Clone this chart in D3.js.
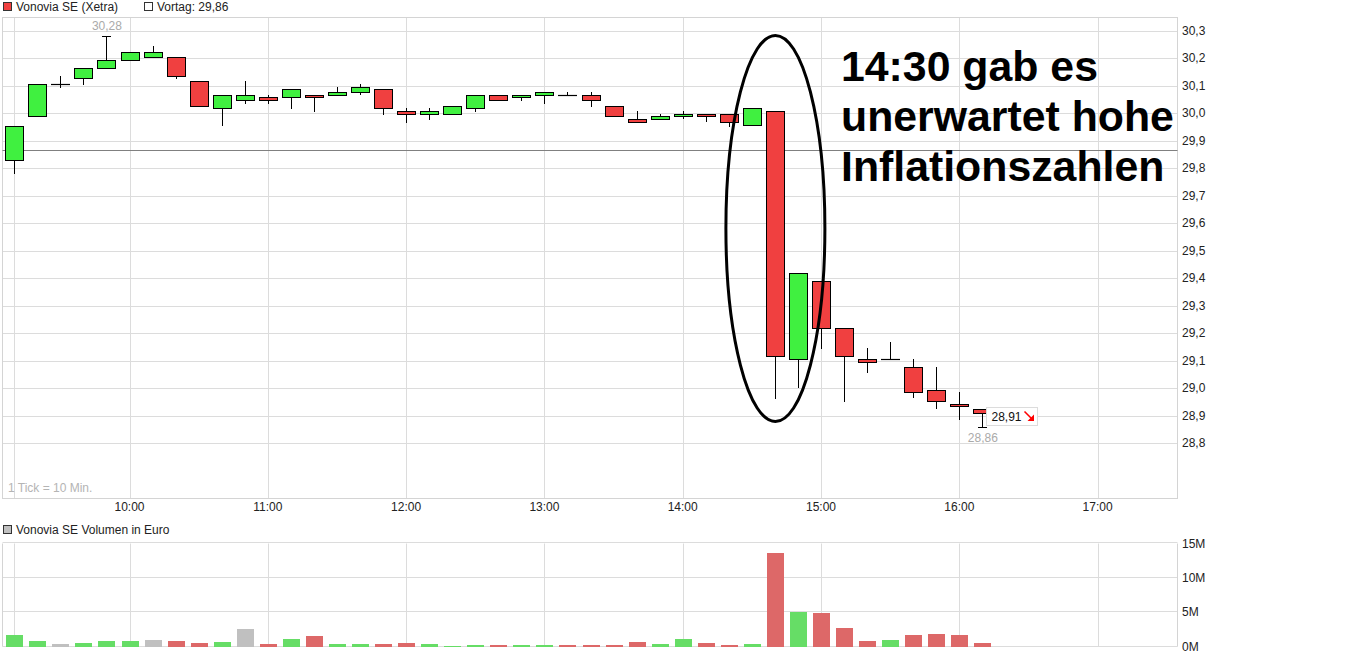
<!DOCTYPE html>
<html><head><meta charset="utf-8">
<script src="https://cdn.jsdelivr.net/npm/d3@7"></script>
<style>
html,body{margin:0;padding:0;background:#fff;}
svg{display:block;font-family:"Liberation Sans",Arial,sans-serif;}
</style>
</head><body>
<svg id="c" width="1372" height="657"></svg>
<script>
// ---------------- DATA ----------------
const times = ["09:10","09:20","09:30","09:40","09:50","10:00","10:10","10:20","10:30","10:40",
  "10:50","11:00","11:10","11:20","11:30","11:40","11:50","12:00","12:10","12:20",
  "12:30","12:40","12:50","13:00","13:10","13:20","13:30","13:40","13:50","14:00",
  "14:10","14:20","14:30","14:40","14:50","15:00","15:10","15:20","15:30","15:40",
  "15:50","16:00","16:10"];
const open  = [29.83,29.99,30.105,30.127,30.163,30.192,30.203,30.203,30.116,30.018,
  30.047,30.058,30.058,30.065,30.065,30.076,30.087,30.007,29.996,29.996,
  30.018,30.065,30.058,30.065,30.065,30.065,30.025,29.978,29.978,29.989,
  29.996,29.996,29.956,30.007,29.105,29.389,29.218,29.105,29.105,29.076,
  28.992,28.941,28.923];
const high  = [29.955,30.105,30.135,30.163,30.28,30.221,30.244,30.203,30.116,30.065,
  30.117,30.065,30.087,30.065,30.094,30.105,30.087,30.018,30.018,30.025,
  30.065,30.065,30.065,30.076,30.076,30.076,30.025,30.007,29.996,30.007,
  29.996,29.996,30.018,30.007,29.418,29.389,29.218,29.145,29.167,29.105,
  29.076,28.985,28.923];
const low   = [29.78,29.99,30.093,30.104,30.163,30.192,30.203,30.125,30.025,29.955,
  30.035,30.035,30.016,30.005,30.065,30.065,29.995,29.965,29.975,29.996,
  30.005,30.047,30.045,30.035,30.065,30.024,29.989,29.967,29.978,29.978,
  29.967,29.949,29.956,28.962,29.002,29.143,28.951,29.053,29.105,28.963,
  28.923,28.883,28.86];
const close = [29.955,30.105,30.105,30.163,30.192,30.221,30.221,30.134,30.025,30.065,
  30.065,30.047,30.087,30.058,30.076,30.094,30.018,29.996,30.007,30.025,
  30.065,30.047,30.065,30.076,30.065,30.047,29.989,29.967,29.989,29.996,
  29.989,29.967,30.018,29.116,29.418,29.218,29.116,29.094,29.105,28.985,
  28.952,28.934,28.91];
// volume in million euro
const volume = [1.69,0.82,0.39,0.53,0.82,0.82,0.97,0.82,0.53,0.68,
  2.56,0.39,1.11,1.55,0.39,0.39,0.39,0.53,0.39,0.1,
  0.24,0.24,0.24,0.24,0.24,0.24,0.24,0.68,0.39,1.11,
  0.53,0.24,0.39,13.59,5.03,4.89,2.71,0.82,0.97,1.69,
  1.84,1.69,0.53];
const previousClose = 29.86;
const priceTicks = [28.8,28.9,29.0,29.1,29.2,29.3,29.4,29.5,29.6,29.7,29.8,29.9,30.0,30.1,30.2,30.3];
const volumeTicks = [0,5,10,15];
const hourTicks = ["10:00","11:00","12:00","13:00","14:00","15:00","16:00","17:00"];
const titleText = "Vonovia SE (Xetra)";
const prevText = "Vortag: ";
const volTitle = "Vonovia SE Volumen in Euro";
const tickNote = "1 Tick = 10 Min.";
const annotationLines = ["14:30 gab es","unerwartet hohe","Inflationszahlen"];
const axisStart = "09:00", axisEnd = "17:40";

// ---------------- LAYOUT ----------------
const L = 2.5, R = 1177.5;
const pTop = 17.5, pBot = 498.5;
const vTop = 543.5, vBot = 646.5;
const C = {
  up:"#40f040", down:"#f04040", grid:"#dcdcdc", border:"#d4d4d4",
  vUp:"#66dd66", vDown:"#dd6868", vFlat:"#c0c0c0", prev:"#808080"
};

const loc = d3.formatLocale({decimal:",", thousands:".", grouping:[3], currency:["","€"]});
const f1 = loc.format(".1f"), f2 = loc.format(".2f");
const parse = d3.timeParse("%H:%M");
const tDates = times.map(parse);

const x = d3.scaleTime().domain([parse(axisStart), parse(axisEnd)]).range([-8.8, 1189.8]);
const y = d3.scaleLinear().domain([28.6, 30.35]).range([498, 17]);
const yv = d3.scaleLinear().domain([0, 15]).range([646.7, 543.3]);

const svg = d3.select("#c");
const px = v => Math.round(v) + 0.5;

// ---------------- PRICE PANEL ----------------
const gridX = [tDates[0]].concat(hourTicks.map(parse));
const g = svg.append("g");
g.selectAll(".hg").data(priceTicks).join("line")
  .attr("x1", L).attr("x2", R)
  .attr("y1", d => px(y(d))).attr("y2", d => px(y(d)))
  .attr("stroke", C.grid);
g.selectAll(".vg").data(gridX).join("line")
  .attr("x1", d => px(x(d))).attr("x2", d => px(x(d)))
  .attr("y1", pTop).attr("y2", pBot).attr("stroke", C.grid);
g.append("rect").attr("x", L).attr("y", pTop).attr("width", R-L).attr("height", pBot-pTop)
  .attr("fill", "none").attr("stroke", C.border);

// y labels
g.selectAll(".yl").data(priceTicks).join("text")
  .attr("x", 1182).attr("y", d => y(d)).attr("dy", "0.35em")
  .attr("font-size", 12).attr("fill", "#222").text(d => f1(d));
// x labels
g.selectAll(".xl").data(hourTicks).join("text")
  .attr("x", d => x(parse(d))).attr("y", 507).attr("dy", "0.35em")
  .attr("text-anchor", "middle").attr("font-size", 12).attr("fill", "#222").text(d => d);

// previous close line
g.append("line").attr("x1", L).attr("x2", R)
  .attr("y1", px(y(previousClose)) - 2).attr("y2", px(y(previousClose)) - 2)
  .attr("stroke", C.prev);

// tick note
g.append("text").attr("x", 8).attr("y", 487.5).attr("dy", "0.35em")
  .attr("font-size", 12).attr("fill", "#b4b4b4").text(tickNote);

// candles
const candles = times.map((t, i) => ({t: tDates[i], o: open[i], h: high[i], l: low[i], c: close[i]}));
const cg = g.selectAll(".candle").data(candles).join("g");
cg.append("line")
  .attr("x1", d => px(x(d.t))).attr("x2", d => px(x(d.t)))
  .attr("y1", d => Math.round(y(d.h))).attr("y2", d => Math.round(y(d.l)))
  .attr("stroke", "#000");
cg.filter(d => d.o !== d.c).append("rect")
  .attr("x", d => Math.round(x(d.t)) - 8.5)
  .attr("y", d => px(y(Math.max(d.o, d.c))))
  .attr("width", 18)
  .attr("height", d => Math.max(1, Math.round(y(Math.min(d.o, d.c))) - Math.round(y(Math.max(d.o, d.c)))))
  .attr("fill", d => d.c > d.o ? C.up : C.down)
  .attr("stroke", "#000");
cg.filter(d => d.o === d.c).append("line")
  .attr("x1", d => Math.round(x(d.t)) - 9).attr("x2", d => Math.round(x(d.t)) + 10)
  .attr("y1", d => px(y(d.o))).attr("y2", d => px(y(d.o)))
  .attr("stroke", "#000").attr("stroke-width", 1.2);

// extreme labels
const hi = d3.maxIndex(high), lo = d3.minIndex(low);
g.append("line").attr("x1", Math.round(x(tDates[hi])) - 4).attr("x2", Math.round(x(tDates[hi])) + 5)
  .attr("y1", px(y(high[hi]))).attr("y2", px(y(high[hi]))).attr("stroke", "#000");
g.append("text").attr("x", x(tDates[hi]) + 0.5).attr("y", y(high[hi]) - 10).attr("dy", "0.35em")
  .attr("text-anchor", "middle").attr("font-size", 12).attr("fill", "#aaa").text(f2(high[hi]));
g.append("line").attr("x1", Math.round(x(tDates[lo])) - 4).attr("x2", Math.round(x(tDates[lo])) + 5)
  .attr("y1", px(y(low[lo]))).attr("y2", px(y(low[lo]))).attr("stroke", "#000");
g.append("text").attr("x", x(tDates[lo]) + 0.5).attr("y", y(low[lo]) + 11).attr("dy", "0.35em")
  .attr("text-anchor", "middle").attr("font-size", 12).attr("fill", "#aaa").text(f2(low[lo]));

// last price box
const last = close.length - 1;
const bx = Math.round(x(tDates[last])) + 4.5, by = px(y(close[last])) - 6;
g.append("rect").attr("x", bx).attr("y", by).attr("width", 51).attr("height", 18)
  .attr("fill", "#fff").attr("stroke", "#dcdcdc");
g.append("text").attr("x", bx + 5).attr("y", by + 9).attr("dy", "0.35em")
  .attr("font-size", 12).attr("fill", "#111").text(f2(close[last]));
const ax = bx + 38, ay = by + 4;
g.append("path").attr("d", `M${ax},${ay} L${ax+8},${ay+8}`).attr("stroke", "#ff0000").attr("stroke-width", 1.6);
g.append("path").attr("d", `M${ax+9.5},${ay+9.5} L${ax+9.5},${ay+3} L${ax+3},${ay+9.5} Z`).attr("fill", "#ff0000");

// ---------------- ANNOTATION ----------------
const eT = parse("14:40");
svg.append("ellipse")
  .attr("cx", x(eT) + 0.5).attr("cy", (y(30.283) + y(28.878)) / 2)
  .attr("rx", 49.5).attr("ry", (y(28.878) - y(30.283)) / 2)
  .attr("fill", "none").attr("stroke", "#000").attr("stroke-width", 3);
svg.selectAll(".ann").data(annotationLines).join("text")
  .attr("x", 841).attr("y", (d, i) => 81 + i * 50)
  .attr("font-size", 42.8).attr("font-weight", "bold").attr("fill", "#000").text(d => d);

// ---------------- LEGEND ----------------
svg.append("rect").attr("x", 3.5).attr("y", 2.5).attr("width", 8).attr("height", 8)
  .attr("fill", C.down).attr("stroke", "#333");
svg.append("text").attr("x", 16).attr("y", 6.5).attr("dy", "0.35em").attr("font-size", 12).attr("fill", "#222").text(titleText);
svg.append("rect").attr("x", 144.5).attr("y", 2.5).attr("width", 8).attr("height", 8)
  .attr("fill", "#fff").attr("stroke", "#333");
svg.append("text").attr("x", 157).attr("y", 6.5).attr("dy", "0.35em").attr("font-size", 12).attr("fill", "#222")
  .text(prevText + f2(previousClose));

// ---------------- VOLUME PANEL ----------------
const vg = svg.append("g");
vg.append("rect").attr("x", 3.5).attr("y", 525.5).attr("width", 8).attr("height", 8)
  .attr("fill", C.vFlat).attr("stroke", "#333");
vg.append("text").attr("x", 16).attr("y", 530).attr("dy", "0.35em").attr("font-size", 12).attr("fill", "#222").text(volTitle);
vg.selectAll(".vhg").data(volumeTicks).join("line")
  .attr("x1", L).attr("x2", R).attr("y1", d => px(yv(d)) - 1).attr("y2", d => px(yv(d)) - 1)
  .attr("stroke", C.grid);
vg.selectAll(".vvg").data(gridX).join("line")
  .attr("x1", d => px(x(d))).attr("x2", d => px(x(d)))
  .attr("y1", vTop).attr("y2", vBot).attr("stroke", C.grid);
vg.append("line").attr("x1", L).attr("x2", L).attr("y1", vTop).attr("y2", vBot).attr("stroke", C.border);
vg.append("line").attr("x1", R).attr("x2", R).attr("y1", vTop).attr("y2", vBot).attr("stroke", C.border);
vg.selectAll(".vl").data(volumeTicks).join("text")
  .attr("x", 1182).attr("y", d => yv(d)).attr("dy", "0.35em")
  .attr("font-size", 12).attr("fill", "#222").text(d => d + "M");
const vcol = i => {
  const prev = i === 0 ? previousClose : close[i-1];
  const a = Math.round(close[i]*1000), b = Math.round(prev*1000);
  return a > b ? C.vUp : (a < b ? C.vDown : C.vFlat);
};
vg.selectAll(".vb").data(volume).join("rect")
  .attr("x", (d, i) => Math.round(x(tDates[i])) - 8)
  .attr("y", d => Math.round(yv(d)))
  .attr("width", 17)
  .attr("height", d => Math.round(yv(0)) - Math.round(yv(d)))
  .attr("fill", (d, i) => vcol(i));
</script>
</body></html>
